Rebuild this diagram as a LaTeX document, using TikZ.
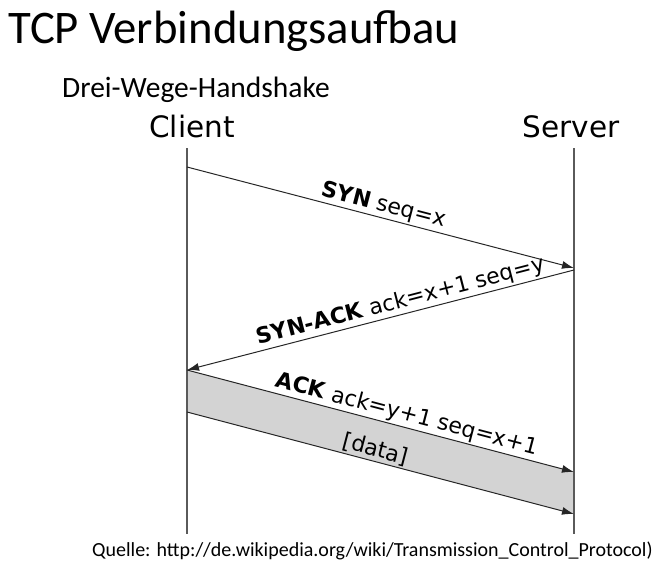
\documentclass[tikz,border=0pt]{standalone}
\usepackage{fontspec}
\setmainfont{Carlito}
\newfontfamily\dejavu{DejaVu Sans}
\usetikzlibrary{calc,arrows.meta}

\definecolor{bandgray}{RGB}{211,211,211}
\definecolor{linegray}{RGB}{90,90,90}

\tikzset{
  msg/.style={-{Latex[length=12pt,width=8pt]}, draw=black!85, line width=1pt},
  life/.style={draw=linegray, line width=1.1pt},
  lbl/.style={font=\dejavu\fontsize{22}{22}\selectfont, sloped, above, inner sep=1.5pt},
  party/.style={font=\dejavu\fontsize{29.5}{29.5}\selectfont, anchor=base, inner sep=0pt},
}

\begin{document}
\begin{tikzpicture}[x=1pt,y=-1pt]
        \useasboundingbox (0,0) rectangle (671,581);
        \node[anchor=base west, inner sep=0pt, font=\fontsize{46.7}{46.7}\selectfont] (title) at (8,43) {TCP Verbindungsaufbau};
        \node[anchor=base west, inner sep=0pt, font=\fontsize{29.5}{29.5}\selectfont] (sub) at (62,97) {Drei-Wege-Handshake};
        \node[party] (client) at (192,137) {Client};
        \node[party] (server) at (571,137) {Server};

        % lifelines
        \coordinate (C0) at (187,148);
        \coordinate (C1) at (187,534);
        \coordinate (S0) at (574,148);
        \coordinate (S1) at (574,534);

        % message ends
        \coordinate (c1) at (187,167);
        \coordinate (s1) at (574,268);
        \coordinate (s2) at (574,270);
        \coordinate (c2) at (187,370);
        \coordinate (s3) at (574,472);
        \coordinate (c3) at (187,412);
        \coordinate (s4) at (574,514);

        \fill[bandgray] (c2) -- (s3) -- (s4) -- (c3) -- cycle;
        \draw[life] (C0) -- (C1);
        \draw[life] (S0) -- (S1);

        \draw[msg] (c1) -- node[lbl] (syn) {\textbf{SYN} seq=x} (s1);
        \draw[msg] (s2) -- node[lbl, pos=0.44] (synack) {\textbf{SYN-ACK} ack=x+1 seq=y} (c2);
        \draw[msg] (c2) -- node[lbl, pos=0.56] (ack) {\textbf{ACK} ack=y+1 seq=x+1} (s3);
        \draw[msg] (c3) -- node[lbl, pos=0.48] (data) {[data]} (s4);

        \node[anchor=base west, inner sep=0pt, font=\fontsize{20}{20}\selectfont] (src) at (92,556) {Quelle: http://de.wikipedia.org/wiki/Transmission\_Control\_Protocol)};
\end{tikzpicture}
\end{document}
